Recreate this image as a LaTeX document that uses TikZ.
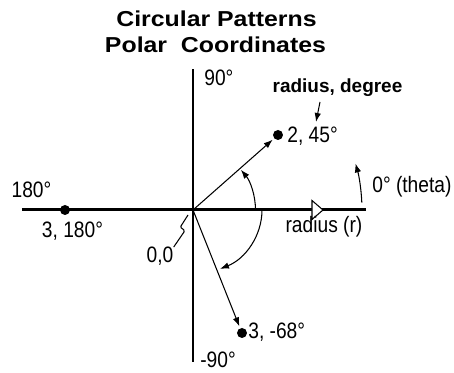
\documentclass[tikz,border=0pt]{standalone}
\usepackage{fontspec}
\setmainfont[FakeStretch=0.86]{Liberation Sans}
\newfontfamily\headfont[FakeStretch=1.15]{Liberation Sans}
\newfontfamily\notefont{Liberation Sans}
\usepackage{tikz}
\usetikzlibrary{arrows.meta,positioning}

\begin{document}
\begin{tikzpicture}[
  x=1cm, y=1cm,
  axis/.style={line width=1.7pt},
  pointer/.style={-{Latex[length=1.8mm, width=1.3mm]}, line width=0.6pt},
  dot/.style={circle, fill=black, inner sep=0pt, minimum size=0.2cm},
  lbl/.style={font=\fontsize{12.7}{15}\selectfont, inner sep=0pt},
  head/.style={font=\headfont\bfseries\fontsize{12.3}{15}\selectfont, inner sep=0pt, anchor=base},
  note/.style={font=\notefont\bfseries\fontsize{10.8}{13}\selectfont, inner sep=0pt, anchor=base}
]
\useasboundingbox (-3.86,-3.26) rectangle (5.22,4.2);

% axes
\coordinate (o) at (0,0);
\coordinate (top) at (0,2.82);
\coordinate (bot) at (0,-3.04);
\coordinate (left) at (-3.42,0);
\coordinate (right) at (3.46,0);
\draw[axis] (left) -- (right);
\draw[axis] (bot) -- (top);
\draw[line width=0.6pt, fill=white] (2.38,0.19) -- (2.6,0) -- (2.38,-0.19) -- cycle;

% titles
\node[head] (title) at (0.47,3.66) {Circular Patterns};
\node[head] (subtitle) at (0.45,3.14) {Polar\ \ Coordinates};

% points
\node[dot] (p1) at (1.70,1.50) {};
\node[dot] (p2) at (-2.56,0) {};
\node[dot] (p3) at (0.98,-2.46) {};

% labels
\node[lbl, anchor=base west] (n90) at (0.22,2.48) {90°};
\node[lbl, anchor=base west] (nm90) at (0.14,-3.16) {-90°};
\node[lbl, anchor=base] (n180) at (-3.23,0.24) {180°};
\node[lbl, anchor=base west] (l1) at (1.88,1.34) {2, 45°};
\node[lbl, anchor=base] (l2) at (-2.41,-0.56) {3, 180°};
\node[lbl, anchor=base west] (l3) at (1.10,-2.58) {3, -68°};
\node[lbl, anchor=base] (rad) at (2.62,-0.46) {radius (r)};
\node[lbl, anchor=base west] (theta) at (3.58,0.34) {0° (theta)};
\node[lbl, anchor=base] (zero) at (-0.66,-1.06) {0,0};
\node[note] (rd) at (2.89,2.34) {radius, degree};

% vectors
\draw[pointer, shorten >=1pt] (o) -- (p1);
\draw[pointer, shorten >=1pt] (o) -- (p3);

% angles
\draw[pointer] (1.25,0) arc[start angle=0, end angle=40, radius=1.25];
\draw[pointer] (1.38,0) arc[start angle=0, end angle=-67, x radius=1.38, y radius=1.28];
\draw[pointer] (2.5:3.38) arc[start angle=2.5, end angle=16, radius=3.38];

% leaders
\coordinate (rdtail) at (2.54,2.16);
\coordinate (rdtip) at (2.46,1.76);
\draw[pointer] (rdtail) -- (rdtip);
\draw[line width=0.6pt] (-0.10,-0.10) -- (-0.24,-0.32)
  .. controls (-0.27,-0.38) and (-0.15,-0.37) .. (-0.18,-0.44) -- (zero.north east);
\end{tikzpicture}
\end{document}
